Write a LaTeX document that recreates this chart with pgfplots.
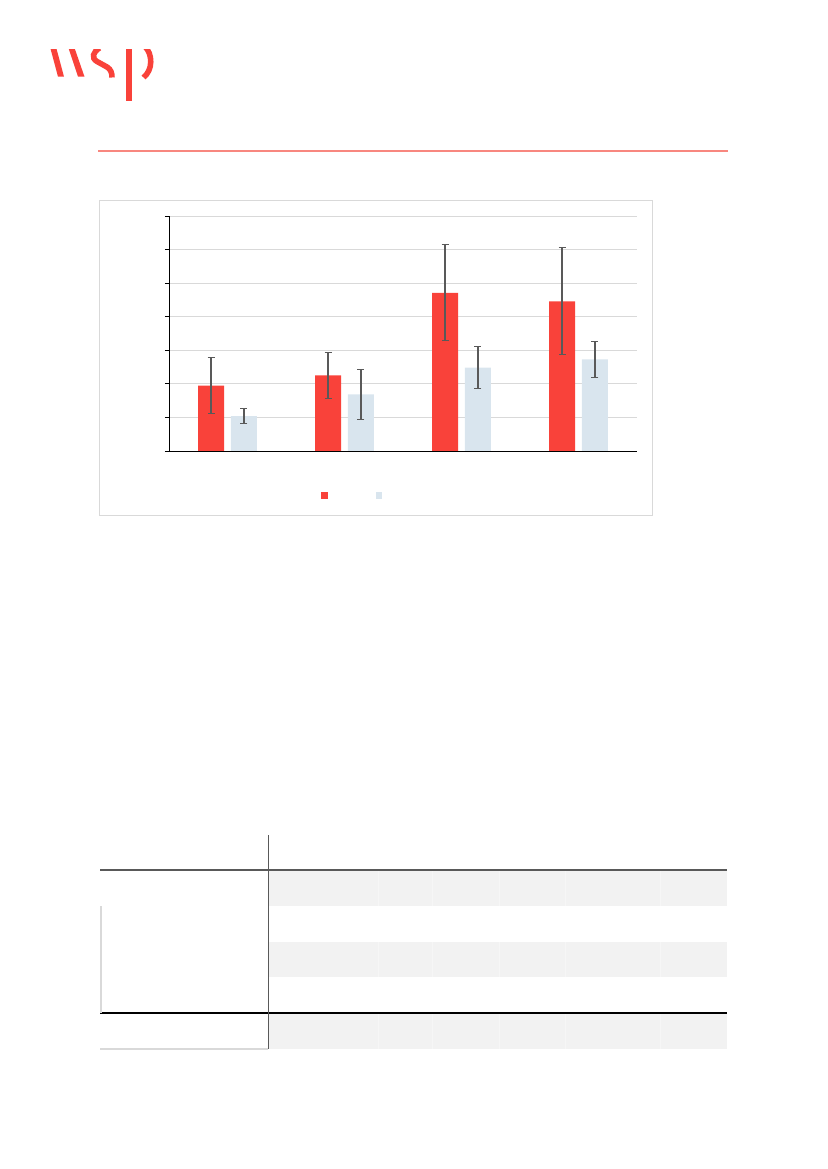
\documentclass[border=0pt]{standalone}
\usepackage{pgfplots}
\usepackage{pgfplotstable}
\pgfplotsset{compat=1.18}

\definecolor{wspred}{HTML}{F9423A}
\definecolor{lightblue}{HTML}{D9E5EE}
\definecolor{errgray}{HTML}{595959}
\definecolor{gridgray}{HTML}{D9D9D9}
\definecolor{rowgray}{HTML}{F2F2F2}
\definecolor{rulered}{HTML}{F8877F}

% group, red mean, red error, blue mean, blue error (grid units)
\pgfplotstableread{
x r re b be
0 1.95 0.83 1.04 0.22
1 2.25 0.68 1.69 0.74
2 4.71 1.43 2.48 0.63
3 4.46 1.59 2.73 0.54
}\data

\begin{document}
\begin{tikzpicture}[x=0.72pt,y=0.72pt]
% page, 827 x 1169 px
\path[use as bounding box] (0,0) rectangle (827,1169);

% logo (cut at its top edge, as on the page)
\begin{scope}[shift={(0,1169)}, yscale=-1]
  \clip (40,50) rectangle (170,110);
  \fill[wspred] (49.5,45) -- (55.5,45) -- (64,76.7) -- (58,76.7) -- cycle;
  \fill[wspred] (67.5,45) -- (73.5,45) -- (84.5,76.7) -- (78,76.7) -- cycle;
  \draw[wspred, line width=4pt]
    (99.5,48) .. controls (93,52) and (91,58) .. (97,61.5)
    -- (107,67) .. controls (111,69.5) and (112,73) .. (112,77.5);
  \fill[wspred] (126,45) rectangle (132.3,101);
  \draw[wspred, line width=4pt]
    (144.5,46) .. controls (153,54) and (153,70) .. (143.5,77.5);
\end{scope}
\draw[rulered,line width=0.8pt] (98,1018) -- (728,1018);

% chart frame
\draw[gridgray,line width=0.7pt] (99,654) rectangle (652,969);
\coordinate (origin) at (169,718);

\begin{axis}[
  at={(origin)}, anchor=south west,
  scale only axis, width=336.96pt, height=169.2pt,
  xmin=-0.5, xmax=3.5, ymin=0, ymax=7,
  axis x line=bottom, axis y line=left,
  axis line style={-, black, line width=0.7pt},
  xtick=\empty,
  ytick={0,...,7}, yticklabels={},
  tick style={black, line width=0.6pt},
  major tick length=3pt, tick align=outside,
  ymajorgrids, grid style={gridgray, line width=0.7pt},
  ybar=5pt, bar width=18.7pt,
  error bars/error bar style={errgray, line width=0.8pt},
  error bars/error mark options={errgray, line width=0.8pt, mark size=2.5pt, rotate=90},
  legend image code/.code={\fill[#1] (0pt,-2.5pt) rectangle (5pt,2.5pt);},
  legend columns=2,
  legend style={at={(axis description cs:0.325,-0.189)}, anchor=west,
    draw=none, fill=none, inner sep=0pt,
    nodes={inner sep=0pt},
    /tikz/every even column/.append style={column sep=0pt}},
]
\addplot[fill=wspred, draw=none, error bars/.cd, y dir=both, y explicit]
  table[x=x, y=r, y error=re] {\data};
\addplot[fill=lightblue, draw=none, error bars/.cd, y dir=both, y explicit]
  table[x=x, y=b, y error=be] {\data};
\legend{\hspace*{34pt}, \hspace*{34pt}}
\end{axis}

% table below
\fill[rowgray] (268,263) rectangle (727,299);
\fill[rowgray] (268,192) rectangle (727,227);
\fill[rowgray] (268,120) rectangle (727,156);
\foreach \c in {378,432,499,565,660}{
  \draw[white,opacity=0.35,line width=0.5pt] (\c,263) -- (\c,299);
  \draw[white,opacity=0.35,line width=0.5pt] (\c,192) -- (\c,227);
  \draw[white,opacity=0.35,line width=0.5pt] (\c,120) -- (\c,156);
}
\draw[errgray,line width=0.8pt] (100,299) -- (727,299);
\draw[black,line width=0.9pt] (100,156) -- (727,156);
\draw[gridgray,line width=0.8pt] (100,120) -- (268,120);
\draw[gridgray,line width=0.8pt] (101,156) -- (101,263);
\draw[errgray,line width=0.6pt] (268,120) -- (268,334);
\end{tikzpicture}
\end{document}
